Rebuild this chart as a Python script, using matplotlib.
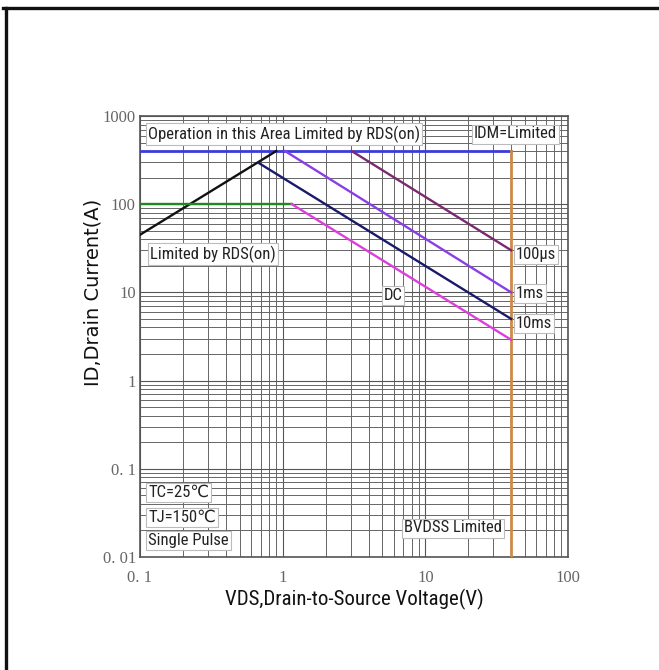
import matplotlib
matplotlib.use("Agg")
import matplotlib.pyplot as plt
from matplotlib.ticker import LogLocator, FixedLocator, FixedFormatter, NullFormatter
from matplotlib.lines import Line2D
from matplotlib import font_manager as fm

# ---- data ----
xticks = [0.1, 1, 10, 100]
xtick_labels = ["0. 1", "1", "10", "100"]
yticks = [0.01, 0.1, 1, 10, 100, 1000]
ytick_labels = ["0. 01", "0. 1", "1", "10", "100", "1000"]

idm_v = [0.1, 40]          # IDM limit (blue)
idm_i = [400, 400]
bv_v = [40, 40]            # BVDSS limit (orange)
bv_i = [400, 0.01]
rds_v = [0.1, 0.9]         # RDS(on) limit (black)
rds_i = [45, 400]
pk_v = [0.1, 1.16]         # green plateau
pk_i = [100, 100]
us100_v = [3.05, 40]       # 100us
us100_i = [400, 30]
ms1_v = [1.04, 40]         # 1ms
ms1_i = [400, 10]
ms10_v = [0.68, 40]        # 10ms (navy)
ms10_i = [293, 5.0]
dc_v = [1.16, 40]          # DC (magenta)
dc_i = [100, 2.9]

def pick(names):
    avail = {f.name for f in fm.fontManager.ttflist}
    out = [n for n in names if n in avail]
    return out if out else ["DejaVu Sans"]

narrow = pick(["Liberation Sans Narrow", "Roboto Condensed", "Open Sans Condensed", "Liberation Sans"])
serif = pick(["Liberation Serif", "DejaVu Serif"])

W, H = 659, 670
fig = plt.figure(figsize=(W / 100, H / 100), dpi=100)
ax = fig.add_axes([140 / W, 1 - 557 / H, (568 - 140) / W, (557 - 116) / H])
ax.set_xscale("log")
ax.set_yscale("log")
ax.set_xlim(0.1, 100)
ax.set_ylim(0.01, 1000)

ax.xaxis.set_major_locator(FixedLocator(xticks))
ax.xaxis.set_major_formatter(FixedFormatter(xtick_labels))
ax.yaxis.set_major_locator(FixedLocator(yticks))
ax.yaxis.set_major_formatter(FixedFormatter(ytick_labels))
ax.xaxis.set_minor_locator(LogLocator(base=10, subs=range(2, 10)))
ax.yaxis.set_minor_locator(LogLocator(base=10, subs=range(2, 10)))
ax.xaxis.set_minor_formatter(NullFormatter())
ax.yaxis.set_minor_formatter(NullFormatter())
ax.tick_params(which="both", length=0)
ax.tick_params(axis="x", pad=9)
ax.tick_params(axis="y", pad=3)
for lab in ax.get_xticklabels() + ax.get_yticklabels():
    lab.set_fontfamily(serif)
    lab.set_fontsize(12)
    lab.set_color("#666666")

ax.grid(True, which="major", color="#555555", linewidth=0.8)
ax.grid(True, which="minor", color="#666666", linewidth=0.7)
for s in ax.spines.values():
    s.set_color("#555555")
    s.set_linewidth(1.2)

lw = 1.7
ax.plot(idm_v, idm_i, color="#3b3bd6", lw=2.0, zorder=3)
ax.plot(bv_v, bv_i, color="#cd8a4a", lw=2.0, zorder=3)
ax.plot(rds_v, rds_i, color="#111111", lw=lw, zorder=3)
ax.plot(pk_v, pk_i, color="#1e8a1e", lw=lw, zorder=3)
ax.plot(us100_v, us100_i, color="#7a2a6e", lw=lw, zorder=3)
ax.plot(ms1_v, ms1_i, color="#8a3ee6", lw=lw, zorder=3)
ax.plot(ms10_v, ms10_i, color="#1a1a6a", lw=lw, zorder=3)
ax.plot(dc_v, dc_i, color="#dd3fdd", lw=lw, zorder=3)

box = dict(boxstyle="square,pad=0.12", facecolor="white", edgecolor="#bbbbbb", linewidth=0.8)

def ptext(px, py, s, ha="left", size=12):
    ax.text(px / W, 1 - py / H, s, transform=fig.transFigure, ha=ha, va="center",
            fontsize=size, family=narrow + ["DejaVu Sans"], color="#222222",
            bbox=box, zorder=5)

ptext(148, 134, "Operation in this Area Limited by RDS(on)")
ptext(474, 134, "IDM=Limited")
ptext(150, 254, "Limited by RDS(on)")
ptext(393, 295, "DC", ha="center")
ptext(516, 254, "100µs")
ptext(516, 293, "1ms")
ptext(516, 323, "10ms")
ptext(148, 492, "TC=25℃")
ptext(148, 517, "TJ=150℃")
ptext(148, 540, "Single Pulse")
ptext(404, 528, "BVDSS Limited")

fig.text(354 / W, 1 - 599 / H, "VDS,Drain-to-Source Voltage(V)", ha="center", va="center",
         fontsize=15, family=narrow + ["DejaVu Sans"], color="#111111")
fig.text(93 / W, 1 - 292 / H, "ID,Drain Current(A)", ha="center", va="center", rotation=90,
         fontsize=14, family=["DejaVu Sans"], color="#111111")

# outer frame (top and left edges)
fig.add_artist(Line2D([3 / W, 1], [1 - 7.5 / H, 1 - 7.5 / H], transform=fig.transFigure,
                      color="#111111", lw=2.4))
fig.add_artist(Line2D([6 / W, 6 / W], [0, 1 - 7.5 / H], transform=fig.transFigure,
                      color="#111111", lw=2.4))

fig.savefig("out.png", dpi=100)
